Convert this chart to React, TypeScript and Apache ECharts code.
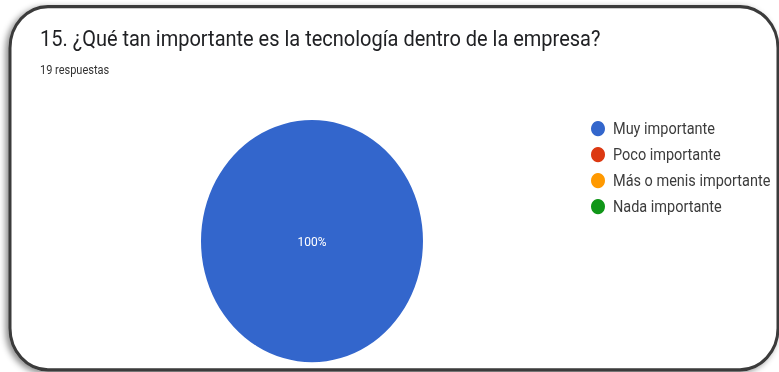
import React, { useEffect, useRef } from "react";
import * as echarts from "echarts";

const titleText = "15. ¿Qué tan importante es la tecnología dentro de la empresa?";
const subText = "19 respuestas";
const categories = ["Muy importante", "Poco importante", "Más o menis importante", "Nada importante"];
const values = [19, 0, 0, 0];
const colors = ["#3366cc", "#dc3912", "#ff9900", "#109618"];

const H = 372;
const SCALE = 1.0909;
const CH = Math.round(H / SCALE);

export default function App() {
  const ref = useRef<HTMLDivElement>(null);
  useEffect(() => {
    if (!ref.current) return;
    const chart = echarts.init(ref.current, undefined, { renderer: "svg" });
    chart.setOption({
      animation: false,
      backgroundColor: "#ffffff",
      color: colors,
      title: [
        {
          text: titleText,
          left: 40,
          top: 25.5,
          padding: 0,
          textStyle: { fontFamily: "Roboto", fontSize: 20, fontWeight: "normal", color: "#202124" },
        },
        {
          text: subText,
          left: 40,
          top: 58.5,
          padding: 0,
          textStyle: { fontFamily: "Roboto", fontSize: 11, fontWeight: "normal", color: "#333333" },
        },
      ],
      legend: {
        orient: "vertical",
        left: 591,
        top: 110.5,
        padding: 0,
        icon: "circle",
        itemWidth: 14,
        itemHeight: 14,
        itemGap: 8.8,
        data: categories,
        textStyle: { fontFamily: "Roboto", fontSize: 14.5, color: "#3c3c3c", padding: [0, 0, 0, 3] },
      },
      graphic: [
        {
          type: "rect",
          z: -1,
          shape: { x: 10, y: 6, width: 768, height: 333, r: 38 },
          style: {
            fill: "#ffffff",
            stroke: "#3a3a3a",
            lineWidth: 3,
            shadowBlur: 6,
            shadowOffsetX: -3,
            shadowOffsetY: 2,
            shadowColor: "rgba(0,0,0,0.45)",
          },
        },
      ],
      series: [
        {
          type: "pie",
          center: [312, 221],
          radius: 111,
          startAngle: 90,
          percentPrecision: 0,
          label: {
            show: true,
            position: "center",
            color: "#ffffff",
            fontFamily: "Roboto",
            fontSize: 12,
            formatter: (p: any) => (p.value > 0 ? p.percent + "%" : ""),
          },
          labelLine: { show: false },
          emphasis: { disabled: true },
          data: categories.map((name, i) => ({ name, value: values[i] })),
        },
      ],
    });
    return () => chart.dispose();
  }, []);
  return (
    <div
      style={{
        position: "fixed",
        left: 0,
        top: 0,
        width: 779,
        height: 372,
        overflow: "hidden",
        background: "#fff",
      }}
    >
      <div
        ref={ref}
        style={{
          width: 779,
          height: CH,
          transform: `scaleY(${SCALE})`,
          transformOrigin: "0 0",
        }}
      />
    </div>
  );
}
